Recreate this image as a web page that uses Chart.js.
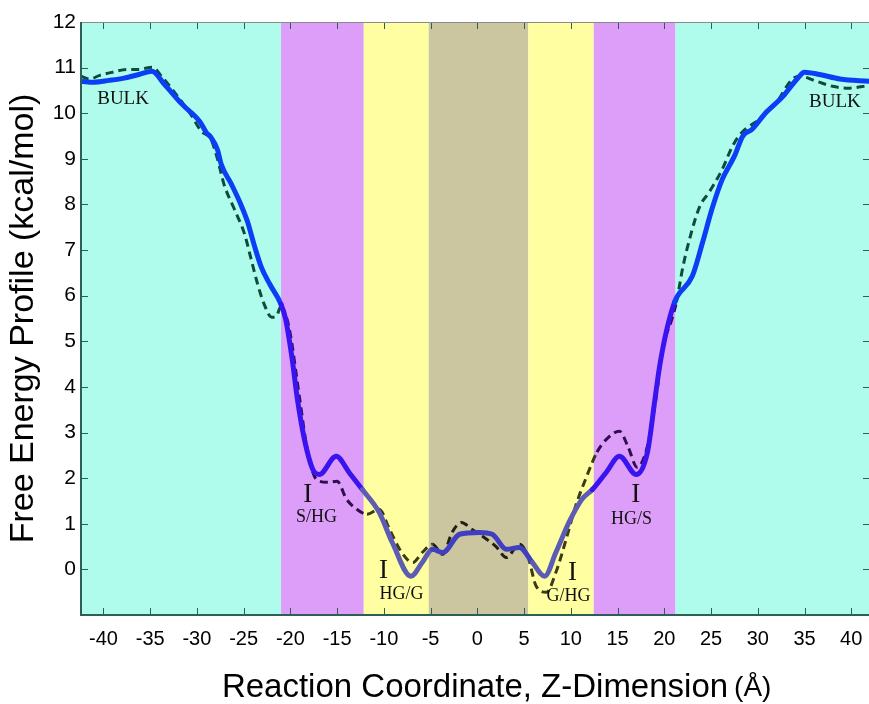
<!DOCTYPE html>
<html>
<head>
<meta charset="utf-8">
<script src="https://cdn.jsdelivr.net/npm/chart.js@4.4.1/dist/chart.umd.min.js"></script>
<style>
  html, body { margin: 0; padding: 0; background: #fff; }
</style>
</head>
<body>
<canvas id="chart" width="869" height="704"></canvas>
<script>
// solid curve
const solidZ = [-42.4, -41, -39.4, -37.8, -36.2, -34.8, -33.5, -31.6, -29.7, -29, -28.5, -27.8, -27.4, -26.3,
  -25.3, -24.6, -23.9, -23.1, -22.2, -21.0, -20.5, -19.8, -19.25, -18.5, -17.6, -16.9, -15.1, -13.7, -12.3,
  -10.5, -9.1, -7.1, -5.9, -4.8, -3.7, -1.9, 0.2, 1.6, 3.1, 4.5, 5.9, 7.2, 8.4, 9.8, 11.2, 12.3, 13.8, 15.2,
  17.0, 18.2, 19.0, 19.5, 20.2, 21.1, 21.4, 23, 24.1, 25.1, 26.2, 27.5, 28.4, 29.4, 30.9, 32.7, 34.2, 35.0,
  36.6, 38.8, 41.9];
const solidEnergy = [10.70, 10.68, 10.72, 10.77, 10.85, 10.92, 10.64, 10.2, 9.82, 9.58, 9.47, 9.2, 8.88, 8.44,
  8.0, 7.63, 7.13, 6.62, 6.25, 5.81, 5.48, 4.6, 3.73, 2.85, 2.19, 2.08, 2.48, 2.12, 1.75,
  1.25, 0.59, -0.15, 0.15, 0.44, 0.37, 0.77, 0.81, 0.77, 0.44, 0.48, 0.15, -0.15, 0.37, 1.03, 1.54, 1.75, 2.13, 2.48,
  2.08, 2.57, 3.73, 4.45, 5.2, 5.86, 5.99, 6.43, 7.17, 7.9, 8.55, 9.06, 9.5, 9.65, 10.02, 10.37, 10.75, 10.9,
  10.85, 10.75, 10.7];

// dashed curve
const dashedZ = [-42.4, -41.5, -40.4, -39, -37.5, -36.2, -34.8, -33.7, -32.4, -30.8, -29.5, -28.5, -27.8, -27.1,
  -26, -24.9, -24.2, -23.5, -22.8, -22, -21.5, -21, -20.6, -20.1, -19.0, -18.2, -17.2, -16.0, -15.0, -14.0,
  -12.9, -11.8, -10.5, -9.4, -8.1, -6.9, -5.9, -4.8, -3.7, -2.7, -1.7, -0.6, 1.0, 2.0, 3.1, 4.5, 5.4, 6.3, 7.4,
  8.4, 9.5, 10.5, 11.7, 12.8, 13.8, 15.2, 16.1, 17.1, 18.2, 19.2, 19.8, 20.8, 21.3, 22, 22.9, 23.8, 24.8, 26.2,
  27.3, 28.3, 30.2, 32.0, 33.7, 34.5, 36.3, 38, 39.8, 41.9];
const dashedEnergy = [10.81, 10.75, 10.83, 10.90, 10.96, 10.96, 11.01, 10.79, 10.46, 10.02, 9.6, 9.43, 9.0, 8.44,
  7.9, 7.35, 6.8, 6.25, 5.81, 5.53, 5.55, 5.77, 5.63, 5.26, 3.73, 2.63, 1.97, 1.91, 1.93, 1.54,
  1.32, 1.21, 1.32, 0.88, 0.37, 0.15, 0.37, 0.55, 0.33, 0.81, 1.03, 0.88, 0.66, 0.5, 0.26, 0.55, 0.29, -0.37, -0.5,
  -0.07, 0.66, 1.38, 2.04, 2.57, 2.85, 3.03, 2.7, 2.24, 2.7, 3.88, 4.82, 5.48, 5.86, 6.64, 7.39, 7.96, 8.27, 8.77,
  9.28, 9.58, 9.87, 10.24, 10.75, 10.81, 10.7, 10.59, 10.55, 10.61];

const xTicks = [-40, -35, -30, -25, -20, -15, -10, -5, 0, 5, 10, 15, 20, 25, 30, 35, 40];
const yTicks = [-1, 0, 1, 2, 3, 4, 5, 6, 7, 8, 9, 10, 11, 12];

// region boundaries along z and the region between each pair
const regionEdges = [-21, -12.15, -5.2, 5.45, 12.45, 21.2];
const regionKinds = ["bulk", "hg", "gly", "core", "gly", "hg", "bulk"];

const bandFill = { bulk: "#b0fcec", hg: "#dd9efa", gly: "#ffffa2", core: "#cbc6a0" };
const solidColor = { bulk: "#0b3ff6", hg: "#3a14ee", gly: "#5c5cb4", core: "#3f3fc0" };
const dashColor = { bulk: "#0f4b3b", hg: "#2f0d4f", gly: "#3b3b14", core: "#22200f" };

function regionAt(z) {
  let i = 0;
  while (i < regionEdges.length && z > regionEdges[i]) i++;
  return regionKinds[i];
}
const mid = (c) => (c.p0.parsed.x + c.p1.parsed.x) / 2;

const frameColor = "#2d5f57";
const sans = '"Liberation Sans", Arial, Helvetica, sans-serif';
const xTitle = "Reaction Coordinate, Z-Dimension";
const xTitleSize = 33;
const xTitleY = 688;

const decor = {
  id: "decor",
  beforeDatasetsDraw(chart) {
    const { ctx, chartArea: a, scales: { x } } = chart;
    const edges = [a.left, ...regionEdges.map((v) => x.getPixelForValue(v)), a.right];
    ctx.save();
    regionKinds.forEach((k, i) => {
      ctx.fillStyle = bandFill[k];
      ctx.fillRect(edges[i], a.top, edges[i + 1] - edges[i], a.bottom - a.top);
    });
    ctx.restore();
  },
  afterDatasetsDraw(chart) {
    const { ctx, chartArea: a, scales: { x, y } } = chart;
    ctx.save();
    // inner tick marks
    ctx.strokeStyle = frameColor;
    ctx.lineWidth = 1;
    ctx.beginPath();
    xTicks.forEach((v) => {
      const px = Math.round(x.getPixelForValue(v)) + 0.5;
      ctx.moveTo(px, a.bottom); ctx.lineTo(px, a.bottom - 7);
      ctx.moveTo(px, a.top); ctx.lineTo(px, a.top + 7);
    });
    yTicks.slice(1).forEach((v) => {
      const py = Math.round(y.getPixelForValue(v)) + 0.5;
      ctx.moveTo(a.left, py); ctx.lineTo(a.left + 7, py);
      ctx.moveTo(a.right, py); ctx.lineTo(a.right - 6, py);
    });
    ctx.stroke();
    // frame
    ctx.strokeStyle = "#8a8a8a";
    ctx.beginPath();
    ctx.moveTo(a.left, a.top + 0.5); ctx.lineTo(a.right, a.top + 0.5);
    ctx.stroke();
    ctx.strokeStyle = frameColor;
    ctx.lineWidth = 2;
    ctx.beginPath();
    ctx.moveTo(a.left, a.top); ctx.lineTo(a.left, a.bottom);
    ctx.lineTo(a.right, a.bottom);
    ctx.stroke();

    // region labels
    ctx.fillStyle = "#111";
    ctx.textAlign = "center";
    ctx.textBaseline = "middle";
    const serif = '"Liberation Serif", "Times New Roman", serif';
    const put = (txt, zx, ey, size) => {
      ctx.font = size + "px " + serif;
      ctx.fillText(txt, x.getPixelForValue(zx), y.getPixelForValue(ey));
    };
    put("BULK", -37.9, 10.31, 19);
    put("BULK", 38.25, 10.24, 19);
    put("I", -18.15, 1.64, 27);
    put("S/HG", -17.2, 1.14, 18);
    put("I", -10.04, -0.04, 27);
    put("HG/G", -8.1, -0.55, 18);
    put("I", 10.19, -0.07, 27);
    put("G/HG", 9.76, -0.59, 18);
    put("I", 16.94, 1.64, 27);
    put("HG/S", 16.5, 1.1, 18);
    ctx.restore();
  },
  afterDraw(chart) {
    // unit after the axis title, in a smaller face
    const { ctx, chartArea: a } = chart;
    ctx.save();
    ctx.font = xTitleSize + "px " + sans;
    const half = ctx.measureText(xTitle).width / 2;
    const cx = (a.left + a.right) / 2;
    ctx.font = "28px " + sans;
    ctx.fillStyle = "#000";
    ctx.textAlign = "left";
    ctx.textBaseline = "middle";
    ctx.fillText("(Å)", cx + half + 6, xTitleY);
    ctx.restore();
  },
};

new Chart(document.getElementById("chart").getContext("2d"), {
  type: "line",
  data: {
    datasets: [
      {
        label: "solid",
        data: solidZ.map((z, i) => ({ x: z, y: solidEnergy[i] })),
        borderWidth: 5,
        borderColor: solidColor.bulk,
        segment: { borderColor: (c) => solidColor[regionAt(mid(c))] },
        cubicInterpolationMode: "monotone",
        pointRadius: 0,
        borderCapStyle: "round",
        borderJoinStyle: "round",
      },
      {
        label: "dashed",
        data: dashedZ.map((z, i) => ({ x: z, y: dashedEnergy[i] })),
        borderWidth: 3,
        borderDash: [8, 5],
        borderColor: dashColor.bulk,
        segment: { borderColor: (c) => dashColor[regionAt(mid(c))] },
        cubicInterpolationMode: "monotone",
        pointRadius: 0,
      },
    ],
  },
  plugins: [decor],
  options: {
    responsive: false,
    animation: false,
    devicePixelRatio: 1,
    layout: { padding: { top: 22, right: 0, left: 0, bottom: 0 } },
    plugins: { legend: { display: false }, tooltip: { enabled: false } },
    scales: {
      x: {
        type: "linear",
        min: -42.4,
        max: 41.9,
        afterBuildTicks: (s) => { s.ticks = xTicks.map((v) => ({ value: v })); },
        afterFit: (s) => { s.height = 89; s.paddingLeft = 0; s.paddingRight = 0; },
        grid: { display: false, drawTicks: false, tickLength: 0 },
        border: { display: false },
        ticks: {
          color: "#000",
          padding: 12,
          maxRotation: 0,
          autoSkip: false,
          font: { family: sans, size: 20 },
        },
        title: {
          display: true,
          text: xTitle,
          color: "#000",
          padding: { top: 0, bottom: 704 - xTitleY - xTitleSize * 0.6 },
          font: { family: sans, size: xTitleSize },
        },
      },
      y: {
        min: -1,
        max: 12,
        afterBuildTicks: (s) => { s.ticks = yTicks.map((v) => ({ value: v })); },
        afterFit: (s) => { s.width = 81; },
        grid: { display: false, drawTicks: false, tickLength: 0 },
        border: { display: false },
        ticks: {
          color: "#000",
          padding: 5,
          autoSkip: false,
          font: { family: sans, size: 21 },
          callback: (v) => (v < 0 ? "" : String(v)),
        },
        title: {
          display: true,
          text: "Free Energy Profile (kcal/mol)",
          color: "#000",
          padding: { top: 3, bottom: 0 },
          font: { family: sans, size: 34 },
        },
      },
    },
  },
});
</script>
</body>
</html>
